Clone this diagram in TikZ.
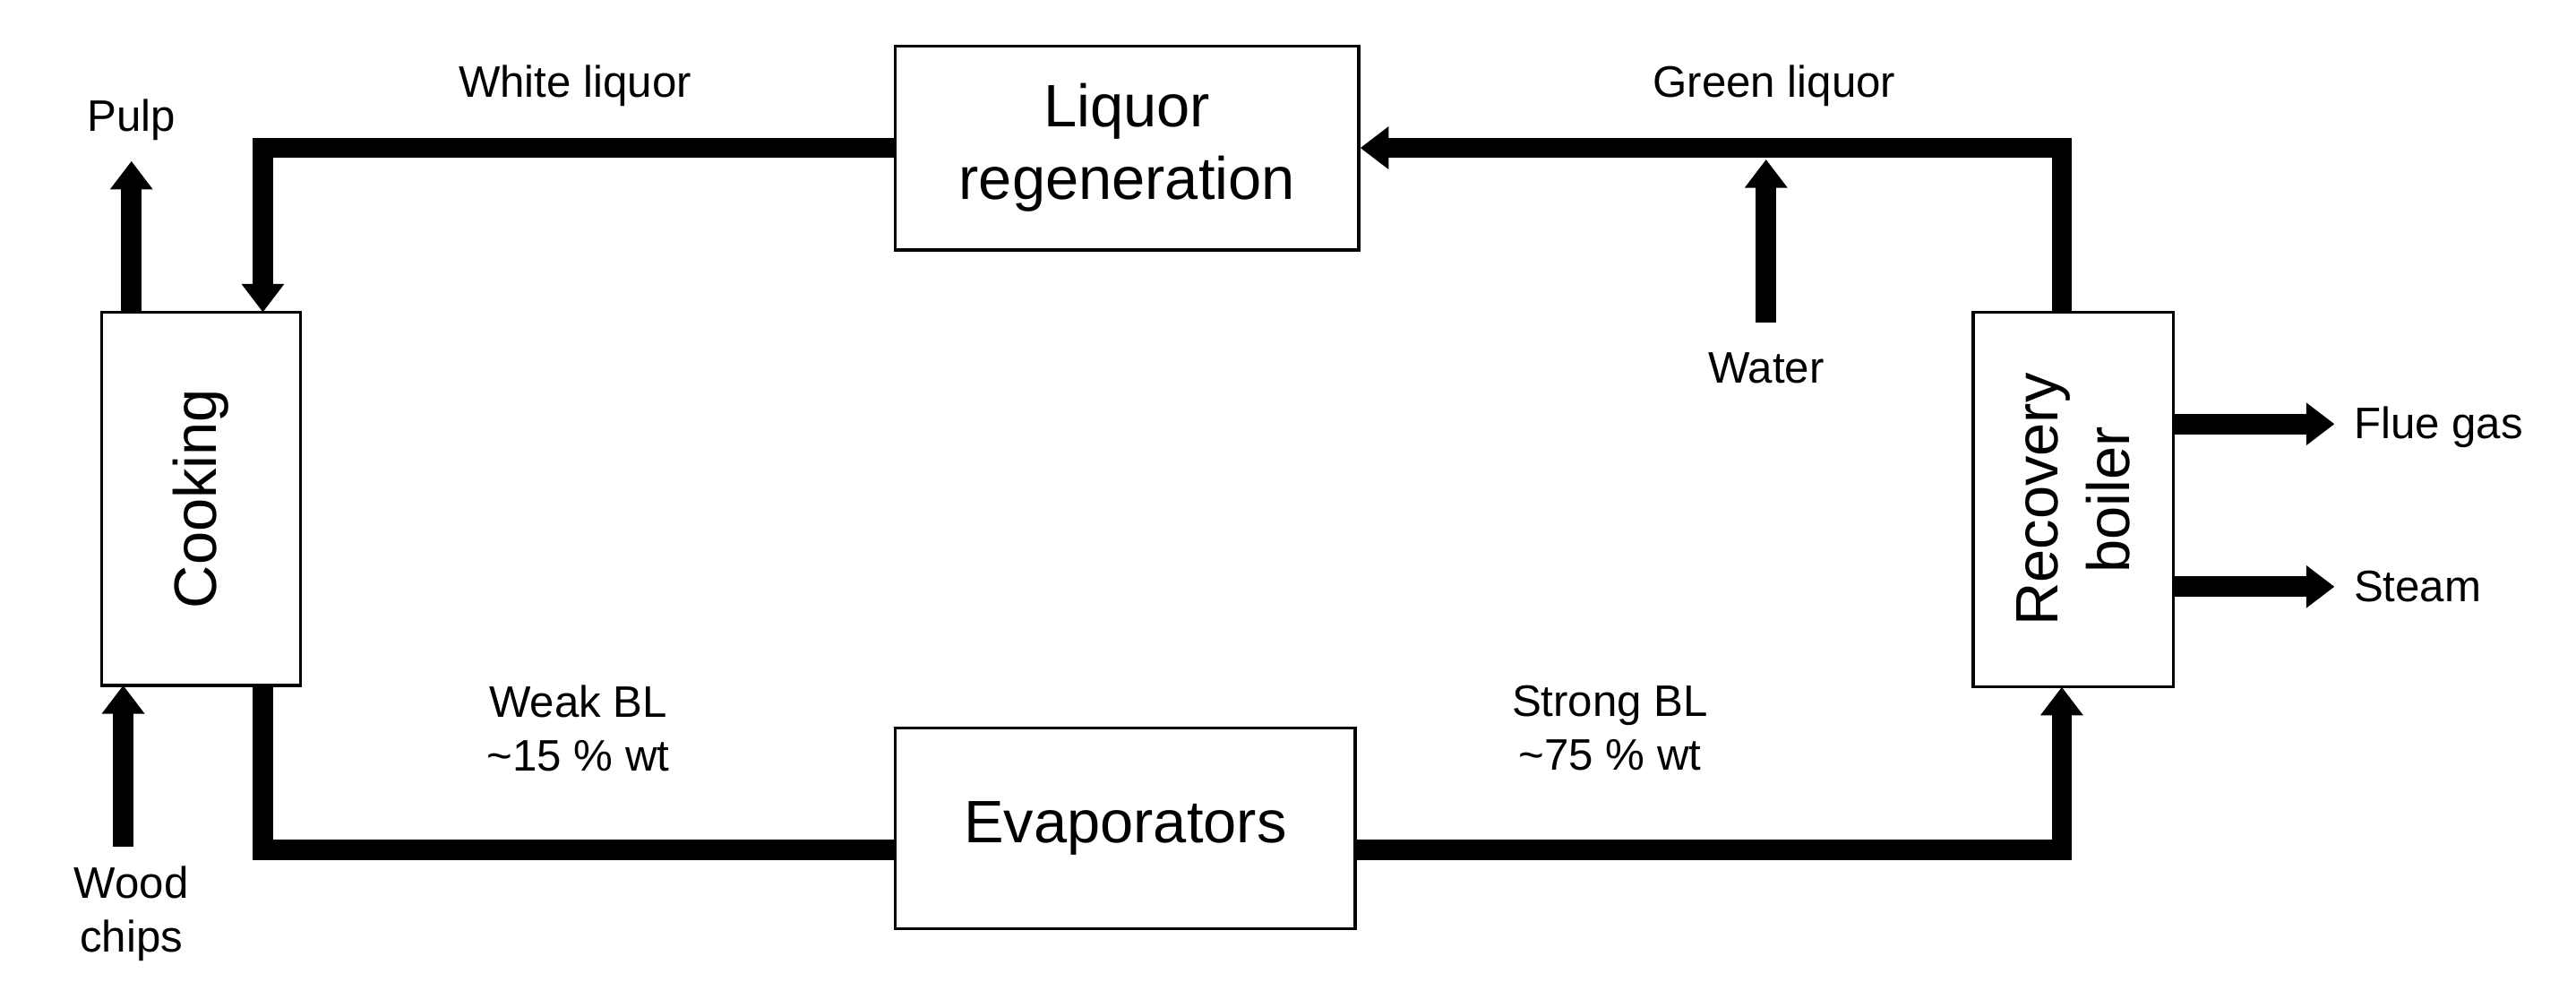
\documentclass[tikz,border=0pt]{standalone}
\usepackage{fontspec}
\setmainfont{Liberation Sans}
\usetikzlibrary{arrows.meta}
\begin{document}
\begin{tikzpicture}[x=0.1834mm,y=-0.1834mm,
 box/.style={draw,line width=1pt,fill=white,inner sep=0pt,align=center,font=\fontsize{19}{23}\selectfont},
 flow/.style={line width=6.5pt,-{Triangle[length=9pt,width=13pt]}},
 pipe/.style={line width=6.5pt},
 lab/.style={font=\fontsize{14}{17}\selectfont,align=center}]
\useasboundingbox (0,0) rectangle (1568,613);
\node[box,minimum width=121*0.1834mm,minimum height=227*0.1834mm] (cook) at (122.5,303.5) {};
\node[rotate=90,font=\fontsize{19}{23}\selectfont] (cookt) at (cook.center) {Cooking};
\node[box,minimum width=282*0.1834mm,minimum height=124*0.1834mm] (regen) at (686,90) {Liquor\\regeneration};
\node[box,minimum width=280*0.1834mm,minimum height=122*0.1834mm] (evap) at (685,504) {Evaporators};
\node[box,minimum width=122*0.1834mm,minimum height=228*0.1834mm] (boil) at (1262,304) {};
\node[rotate=90,align=center,font=\fontsize{19}{23}\selectfont] (boilt) at (boil.center) {Recovery\\boiler};
\coordinate (wl1) at (160,90); \coordinate (wl2) at (160,190);
\draw[flow] (regen.west) -- (wl1) -- (wl2);
\coordinate (gl1) at (1255,190); \coordinate (gl2) at (1255,90);
\draw[flow] (gl1) -- (gl2) -- (regen.east);
\coordinate (w1) at (1075,196); \coordinate (w2) at (1075,97);
\draw[flow] (w1) -- (w2);
\coordinate (p1) at (80,190); \coordinate (p2) at (80,98);
\draw[flow] (p1) -- (p2);
\coordinate (c1) at (75,515); \coordinate (c2) at (75,417);
\draw[flow] (c1) -- (c2);
\coordinate (wb1) at (160,417); \coordinate (wb2) at (160,517);
\draw[pipe] (wb1) -- (wb2) -- (evap.west |- wb2);
\coordinate (sb1) at (1255,517); \coordinate (sb2) at (1255,418);
\draw[flow] (evap.east |- sb1) -- (sb1) -- (sb2);
\coordinate (f1) at (1323,258); \coordinate (f2) at (1421,258);
\draw[flow] (f1) -- (f2);
\coordinate (s1) at (1323,357); \coordinate (s2) at (1421,357);
\draw[flow] (s1) -- (s2);
\node[lab] (lw) at (350,52) {White liquor};
\node[lab] (lg) at (1080,52) {Green liquor};
\node[lab] (lwa) at (1075,224) {Water};
\node[lab] (lp) at (80,73) {Pulp};
\node[lab] (lc) at (80,556) {Wood\\chips};
\node[lab] (lwb) at (352,443) {Weak BL\\\textasciitilde15 \% wt};
\node[lab] (lsb) at (980,443) {Strong BL\\\textasciitilde75 \% wt};
\node[lab,anchor=west] (lf) at (1426,260) {Flue gas};
\node[lab,anchor=west] (ls) at (1426,357) {Steam};
\end{tikzpicture}
\end{document}
